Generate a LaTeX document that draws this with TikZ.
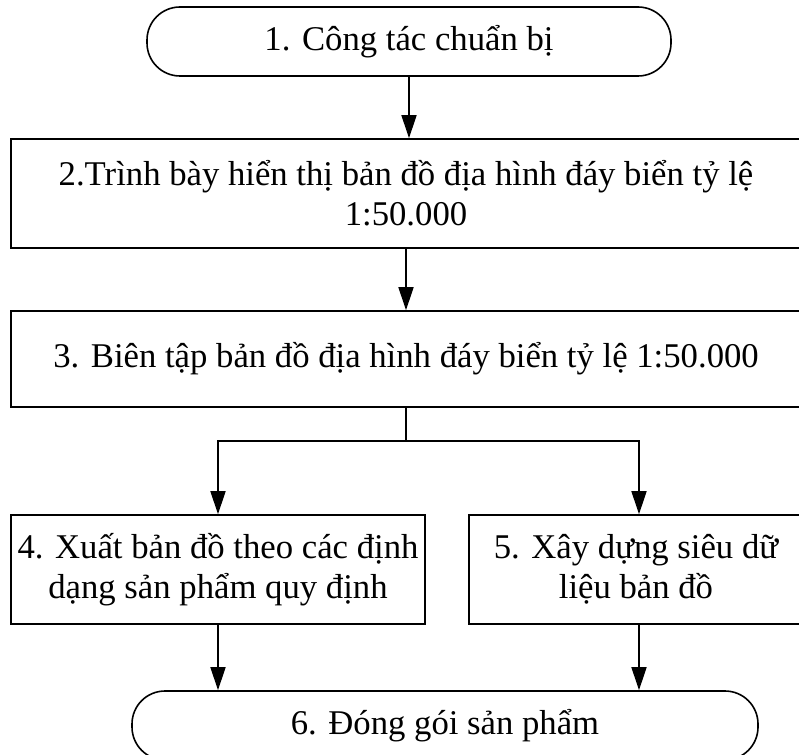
\documentclass[tikz,border=0pt]{standalone}
\usepackage{fontspec}
\setmainfont{Liberation Serif}
\usetikzlibrary{positioning,arrows.meta}

\begin{document}
\begin{tikzpicture}[
    x=1pt, y=-1pt,
    every node/.style={font=\fontsize{34.7}{40}\selectfont},
    stepbox/.style={draw, line width=1.6pt, align=center, inner sep=0pt},
    endbox/.style={draw, line width=1.6pt, rounded corners=33pt, inner sep=0pt},
    flow/.style={line width=1.6pt, -{Triangle[length=23pt,width=15pt]}}
]
\clip (0,0) rectangle (799,754);

% start
\node[endbox, minimum width=524pt, minimum height=69pt] (s1) at (409,41.5) {1. Công tác chuẩn bị};

% main steps
\node[stepbox, minimum width=790pt, minimum height=109pt] (s2) at (406,193.5) {2.Trình bày hiển thị bản đồ địa hình đáy biển tỷ lệ\\1:50.000};
\node[stepbox, minimum width=790pt, minimum height=96pt] (s3) at (406,359) {3. Biên tập bản đồ địa hình đáy biển tỷ lệ 1:50.000};

% two branches
\node[stepbox, minimum width=414pt, minimum height=109pt] (s4) at (218,569.5) {4. Xuất bản đồ theo các định\\dạng sản phẩm quy định};
\node[stepbox, minimum width=334pt, minimum height=109pt] (s5) at (636,569.5) {5. Xây dựng siêu dữ\\liệu bản đồ};

% end
\node[endbox, minimum width=626pt, minimum height=69pt] (s6) at (445,725.5) {6. Đóng gói sản phẩm};

\coordinate[below=33pt of s3.south] (split);

\draw[flow] (s1.south) -- (s1.south |- s2.north);
\draw[flow] (s2.south) -- (s3.north);
\draw[line width=1.6pt] (s3.south) -- (split);
\draw[flow] (split) -| (s4.north);
\draw[flow] (split) -| ([xshift=3pt]s5.north);
\draw[flow] (s4.south) -- (s4.south |- s6.north);
\draw[flow] ([xshift=3pt]s5.south) -- ([xshift=3pt]s5.south |- s6.north);
\end{tikzpicture}
\end{document}
